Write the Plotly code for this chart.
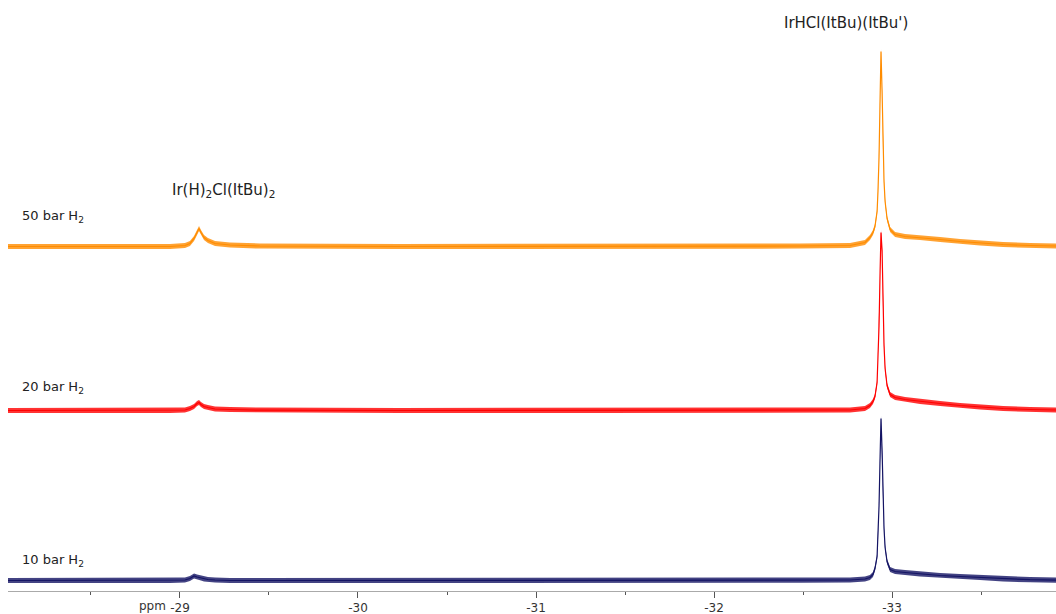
import numpy as np
import plotly.graph_objects as go

# ---- data (ppm, intensity above each trace's baseline, arbitrary units) ----
ppm = [-28.034, -28.551, -28.944, -29.028, -29.056, -29.079, -29.096, -29.107,
       -29.118, -29.135, -29.157, -29.197, -29.281, -29.449, -30.236, -31.360,
       -32.483, -32.764, -32.848, -32.876, -32.893, -32.904, -32.916, -32.921,
       -32.927, -32.933, -32.938, -32.944, -32.949, -32.955, -32.961, -32.972,
       -32.989, -33.017, -33.073, -33.157, -33.270, -33.382, -33.494, -33.624,
       -33.775, -33.921]

i_50bar = [0, 0, 0, 1, 3, 8, 14, 18,
           14, 9, 6, 3, 1.5, 0.5, 0, 0,
           0.5, 1, 4, 9, 14, 20, 35, 55,
           90, 150, 195, 155, 100, 65, 45, 28,
           17, 12, 10, 9, 7, 5, 3.5, 2,
           1, 0.5]

i_20bar = [0, 0, 0, 0.5, 2, 4, 7, 8,
           6, 4, 3, 1.5, 1, 0.3, 0, 0,
           0.3, 0.5, 2, 5, 9, 14, 28, 48,
           85, 140, 178, 160, 105, 65, 42, 25,
           16, 13, 11, 9, 7, 5, 3.5, 2,
           1, 0.5]

i_10bar = [0, 0, 0, 0.5, 2, 4.5, 3.5, 3,
           2.5, 1.5, 1, 0.5, 0, 0, 0, 0,
           0.3, 0.5, 1.5, 3, 6, 12, 24, 42,
           75, 125, 162, 130, 85, 52, 33, 19,
           11, 9, 8, 6.5, 5, 4, 3, 1.5,
           0.8, 0.3]

series_names = ["10 bar H<sub>2</sub>", "20 bar H<sub>2</sub>", "50 bar H<sub>2</sub>"]
series_vals = [i_10bar, i_20bar, i_50bar]

major_ticks = [-29, -30, -31, -32, -33]
major_labels = ["-29", "-30", "-31", "-32", "-33"]

# ---- styling ----
colors = ["rgb(20,20,100)", "rgb(255,0,0)", "rgb(255,140,0)"]
band_colors = ["rgba(20,20,100,0.8)", "rgba(255,0,0,0.8)", "rgba(255,140,0,0.8)"]
offsets = [10.5, 180.5, 344.5]
noise = 2.6
label_y = [31, 204, 375]

fig = go.Figure()
x = np.array(ppm)
for vals, off, c, bc in zip(series_vals, offsets, colors, band_colors):
    y = np.array(vals, dtype=float) + off
    fig.add_trace(go.Scatter(
        x=np.concatenate([x, x[::-1]]),
        y=np.concatenate([y + noise, (y - noise)[::-1]]),
        fill="toself", fillcolor=bc, line=dict(width=0),
        mode="lines", hoverinfo="skip", showlegend=False))
    fig.add_trace(go.Scatter(x=x, y=y, mode="lines",
                             line=dict(color=c, width=1.2),
                             showlegend=False))

font = "DejaVu Sans"
for name, ly in zip(series_names, label_y):
    fig.add_annotation(x=-28.101, y=ly, text=name, showarrow=False,
                       xanchor="left", yanchor="middle",
                       font=dict(family=font, size=13, color="#222"))

fig.add_annotation(x=-32.742, y=568, text="IrHCl(ItBu)(ItBu')", showarrow=False,
                   xanchor="center", yanchor="middle",
                   font=dict(family=font, size=15, color="#222"))
fig.add_annotation(x=-29.247, y=401, text="Ir(H)<sub>2</sub>Cl(ItBu)<sub>2</sub>",
                   showarrow=False, xanchor="center", yanchor="middle",
                   font=dict(family=font, size=15, color="#222"))
fig.add_annotation(x=-28.846, y=0, yref="paper", text="ppm", showarrow=False,
                   xanchor="center", yanchor="top", yshift=-6,
                   font=dict(family=font, size=12, color="#333"))

fig.update_layout(
    width=1056, height=614,
    margin=dict(l=8, r=0, t=0, b=23),
    paper_bgcolor="white", plot_bgcolor="white",
    xaxis=dict(range=[-28.034, -33.921], tickvals=major_ticks, ticktext=major_labels,
               ticks="outside", ticklen=6, tickcolor="#555", tickwidth=1,
               showline=True, linecolor="#aaa", linewidth=1,
               showgrid=False, zeroline=False,
               tickfont=dict(family=font, size=12, color="#333"),
               minor=dict(tickvals=[-28.5, -29.5, -30.5, -31.5, -32.5, -33.5],
                          ticks="outside", ticklen=3, tickcolor="#555", showgrid=False)),
    yaxis=dict(range=[0, 591], visible=False, showgrid=False, zeroline=False),
)

fig.write_html("out.html", config={"displayModeBar": False},
               post_script="document.body.style.margin='0px';")
